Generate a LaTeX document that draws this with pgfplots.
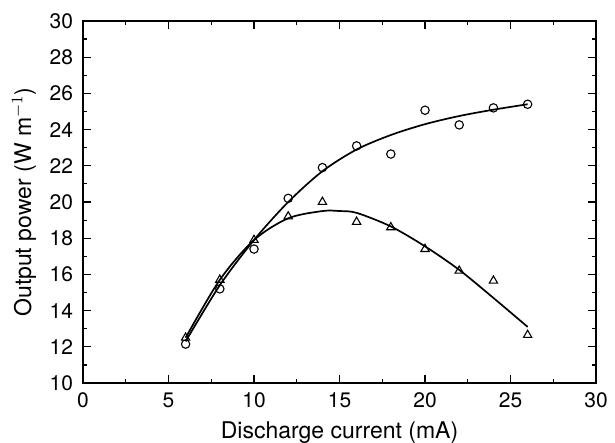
\documentclass[border=0pt]{standalone}
\usepackage{fontspec}
\setmainfont{TeX Gyre Heros}
\usepackage{pgfplots}
\pgfplotsset{compat=1.18}

\begin{document}
\begin{tikzpicture}
\begin{axis}[
  scale only axis,
  width=256.5pt,
  height=181pt,
  xmin=0, xmax=30,
  ymin=10, ymax=30,
  xtick={0,5,...,30},
  ytick={10,12,...,30},
  minor x tick num=1,
  minor y tick num=1,
  tick align=inside,
  major tick length=4pt,
  minor tick length=2pt,
  axis line style={line width=0.75pt},
  every tick/.style={line width=0.6pt, black},
  xlabel={Discharge current (mA)},
  ylabel={Output power (W m$^{-1}$)},
  /pgf/number format/assume math mode=true,
  ticklabel style={font=\fontsize{10.5}{12}\selectfont},
  label style={font=\fontsize{11.5}{14}\selectfont},
  yticklabel style={xshift=-1.5pt},
  xticklabel style={yshift=-1.5pt},
  xlabel style={at={(axis description cs:0.5,0)}, anchor=base, yshift=-27.5pt},
  ylabel style={at={(axis description cs:0,0.5)}, anchor=center, yshift=29.5pt},
  clip=false,
]
% circles
\addplot[only marks, mark=o, mark size=2.1pt, mark options={line width=0.55pt}] coordinates {
  (6,12.15) (8,15.2) (10,17.4) (12,20.2) (14,21.9) (16,23.1)
  (18,22.65) (20,25.07) (22,24.26) (24,25.2) (26,25.4)
};
% triangles
\addplot[only marks, mark=triangle, mark size=2.4pt, mark options={line width=0.55pt}] coordinates {
  (6,12.5) (8,15.7) (10,17.9) (12,19.2) (14,20.0) (16,18.9)
  (18,18.6) (20,17.4) (22,16.2) (24,15.65) (26,12.65)
};
% fit curve through circles
\addplot[smooth, line width=0.85pt] coordinates {
  (6,12.3) (8,15.4) (10,17.9) (12,20.0) (14,21.7) (16,22.9)
  (18,23.7) (20,24.3) (22,24.75) (24,25.1) (26,25.4)
};
% fit curve through triangles
\addplot[smooth, line width=0.85pt] coordinates {
  (6,12.5) (8,15.7) (10,17.9) (12,19.1) (14,19.5) (15,19.5)
  (16,19.4) (18,18.65) (20,17.55) (22,16.25) (24,14.7) (26,13.1)
};
\coordinate (bl) at (rel axis cs:-0.1618,-0.1657);
\coordinate (tr) at (rel axis cs:1.037,1.058);
\end{axis}
\pgfresetboundingbox
\useasboundingbox (bl) rectangle (tr);
\end{tikzpicture}
\end{document}
